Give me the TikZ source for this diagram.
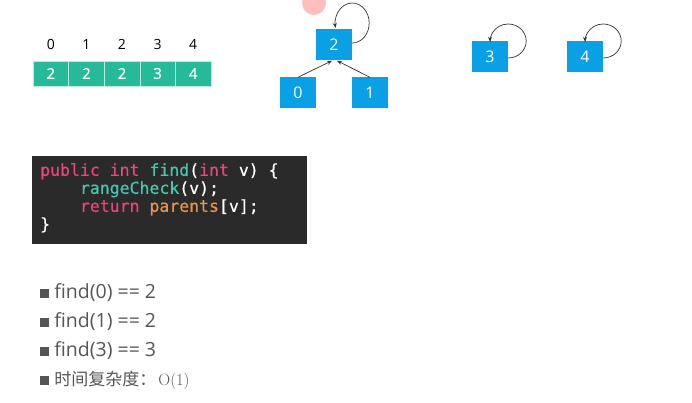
\documentclass[tikz,border=0pt]{standalone}
\usepackage{fontspec}
\setmainfont{Open Sans}
\setmonofont{DejaVu Sans Mono}[FakeBold=0.6]
\newfontfamily\cjk{Noto Sans CJK SC}
\newfontfamily\lmroman{Latin Modern Roman}
\newfontfamily\cellfont{Open Sans}[FakeBold=0.8]
\usepackage{xcolor}
\usepackage{tikz}
\usetikzlibrary{positioning}
\usetikzlibrary{shapes,arrows,calc,arrows.meta}

\definecolor{cellteal}{HTML}{26B99A}
\definecolor{boxblue}{HTML}{0AA0E6}
\definecolor{codebg}{HTML}{2A2A2A}
\definecolor{kwpink}{HTML}{E8467C}
\definecolor{fnteal}{HTML}{45C8B0}
\definecolor{varorange}{HTML}{E8954A}
\definecolor{bulletgray}{HTML}{555555}

\tikzset{
  cell/.style={rectangle, fill=cellteal, draw=white!70!cellteal, line width=0.6pt,
    minimum width=35.6pt, minimum height=25pt, inner sep=0pt, text=white,
    font=\cellfont\fontsize{15}{17}\selectfont},
  idx/.style={inner sep=0pt, font=\fontsize{14}{16}\selectfont},
  box/.style={rectangle, fill=boxblue, minimum width=36pt, minimum height=31pt,
    inner sep=0pt, text=white, font=\fontsize{16}{18}\selectfont},
  link/.style={draw=black!80, line width=0.7pt, -{Stealth[length=5pt,width=4pt]}},
  bullet/.style={rectangle, fill=bulletgray, minimum size=9pt, inner sep=0pt},
  item/.style={inner sep=0pt, text=bulletgray, font=\fontsize{19.5}{21}\selectfont}
}

\begin{document}
\begin{tikzpicture}[x=1pt, y=-1pt, node distance=35.6pt, auto]
    \useasboundingbox (0,0) rectangle (692,403);
    % cursor mark
    \fill [red!25] (314,3) circle (12pt);

    % Array
    \node [cell] (c0) at (50.8,73.5) {2};
    \node [cell, right of=c0] (c1) {2};
    \node [cell, right of=c1] (c2) {2};
    \node [cell, right of=c2] (c3) {3};
    \node [cell, right of=c3] (c4) {4};

    \node [idx] (i0) at ([yshift=16pt]c0.north) {0};
    \node [idx] (i1) at ([yshift=16pt]c1.north) {1};
    \node [idx] (i2) at ([yshift=16pt]c2.north) {2};
    \node [idx] (i3) at ([yshift=16pt]c3.north) {3};
    \node [idx] (i4) at ([yshift=16pt]c4.north) {4};

    % Trees
    \node [box] (n2) at (334,45) {2};
    \node [box] (n0) at (298,93) {0};
    \node [box] (n1) at (370,93) {1};
    \node [box] (n3) at (490,57) {3};
    \node [box] (n4) at (585,57) {4};

    % Arrows
    \draw [link] (n0.north) -- ([xshift=-2pt]n2.south);
    \draw [link] (n1.north) -- ([xshift=3pt]n2.south);
    \draw [link] ([yshift=2pt]n2.east) arc [start angle=-90, end angle=194, x radius=17pt, y radius=20pt];
    \draw [link] ([yshift=-1pt]n3.east) arc [start angle=-90, end angle=183, x radius=18pt, y radius=17pt];
    \draw [link] ([yshift=-1pt]n4.east) arc [start angle=-90, end angle=183, x radius=18pt, y radius=17pt];

    % Code
    \node [rectangle, fill=codebg, anchor=north west, minimum width=275pt,
      minimum height=88pt, inner sep=0pt] (code) at (32,156) {};
    \node [anchor=north west, inner sep=0pt, align=left, text=white,
      font=\ttfamily\fontsize{16.5}{18}\selectfont] (src) at ([xshift=8pt,yshift=-7pt]code.north west)
      {\textcolor{kwpink}{public} \textcolor{kwpink}{int} \textcolor{fnteal}{find}(\textcolor{kwpink}{int} v) \{\\
       \phantom{xxxx}\textcolor{fnteal}{rangeCheck}(v);\\
       \phantom{xxxx}\textcolor{kwpink}{return} \textcolor{varorange}{parents}[v];\\
       \}};

    % Notes
    \node [bullet] (b1) at (44.5,293) {};
    \node [item, right=5pt of b1] (t1) {find(0) == 2};
    \node [bullet] (b2) at (44.5,322) {};
    \node [item, right=5pt of b2] (t2) {find(1) == 2};
    \node [bullet] (b3) at (44.5,351) {};
    \node [item, right=5pt of b3] (t3) {find(3) == 3};
    \node [bullet] (b4) at (44.5,380) {};
    \node [item, right=5pt of b4] (t4) {{\cjk\fontsize{17}{19}\selectfont 时间复杂度：}\hspace{2pt}{\lmroman\fontsize{16.5}{19}\selectfont O(1)}};
\end{tikzpicture}
\end{document}
